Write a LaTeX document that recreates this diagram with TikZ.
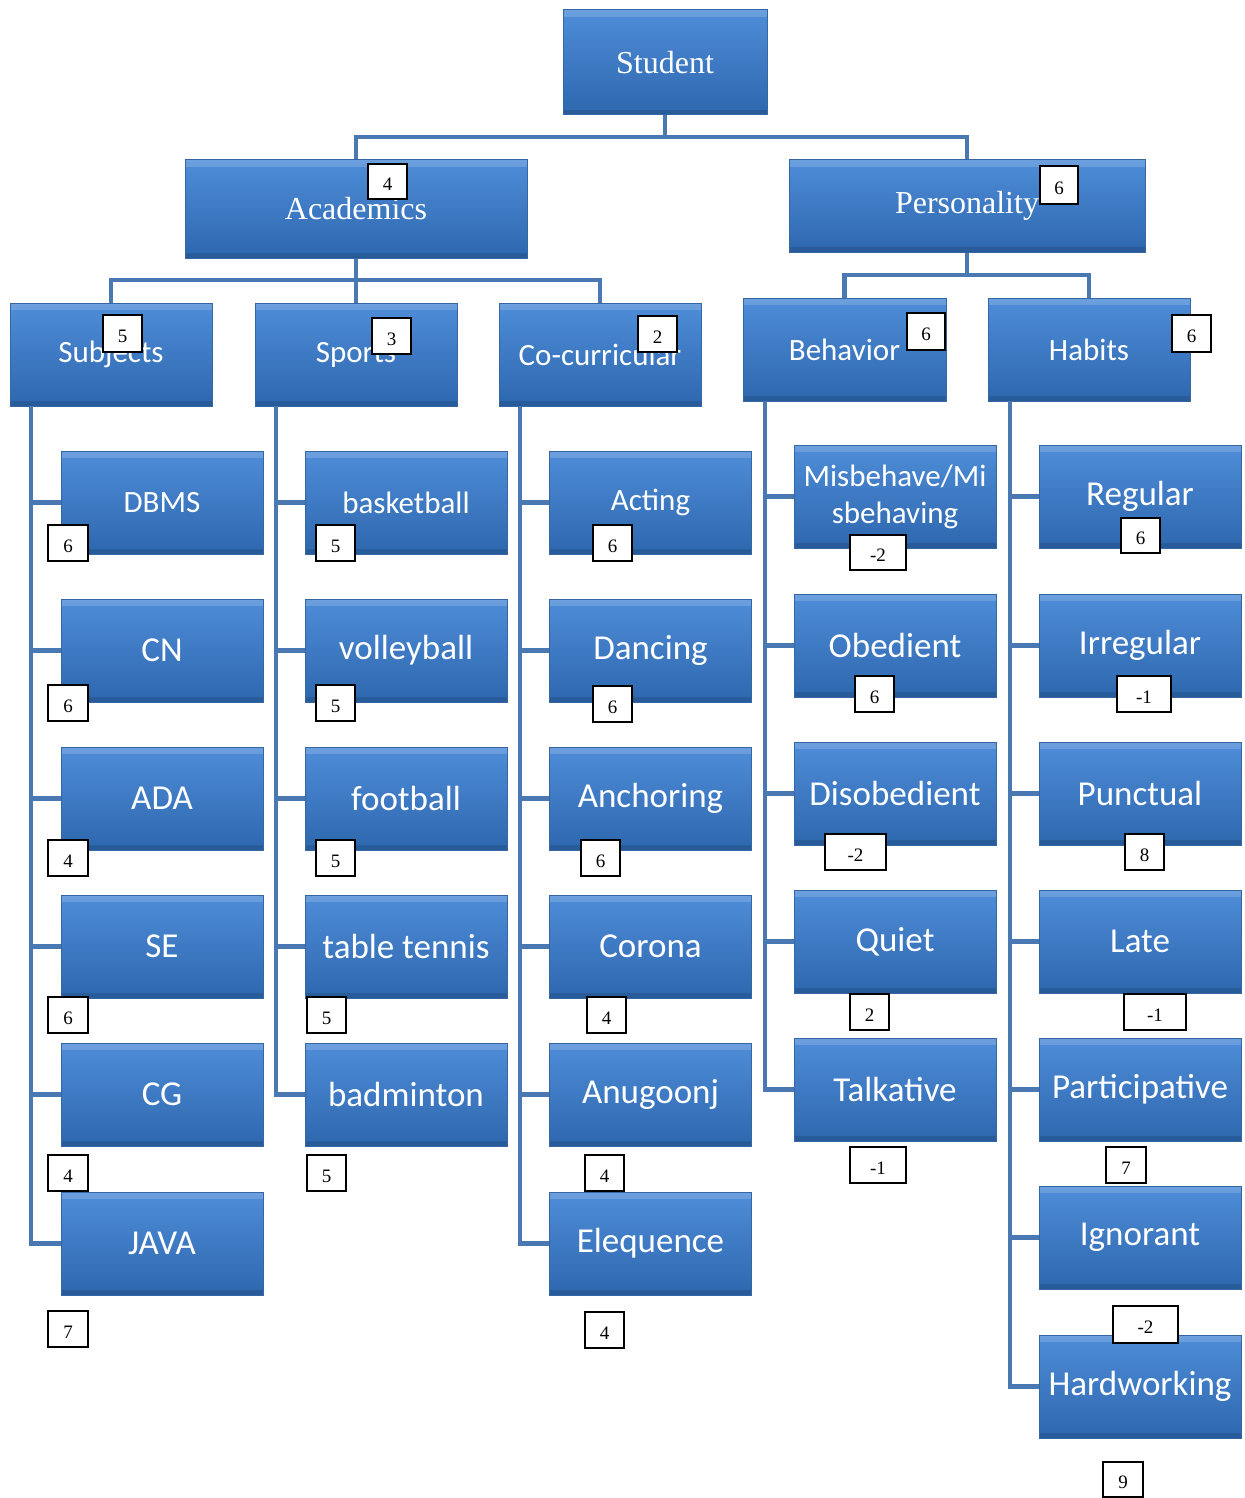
\documentclass[tikz,border=0pt]{standalone}
\usepackage{fontspec}
\setmainfont{Liberation Serif}
\newfontfamily\calfont{Carlito}
\definecolor{boxtop}{HTML}{4F8DD8}
\definecolor{boxbot}{HTML}{2D67AE}
\definecolor{boxedge}{HTML}{3666A3}
\definecolor{linkc}{HTML}{4A78B3}
\tikzset{
  bluebox/.style={rectangle, top color=boxtop, bottom color=boxbot, draw=boxedge,
    line width=1pt, text=white, align=center, inner sep=0pt,
    path picture={
      \fill[white,opacity=0.16] (path picture bounding box.north west) rectangle ([yshift=-7pt]path picture bounding box.north east);
      \fill[black,opacity=0.12] (path picture bounding box.south west) rectangle ([yshift=5pt]path picture bounding box.south east);
    }},
  topfont/.style={font=\fontsize{32}{34}\selectfont},
  midbox/.style={bluebox, minimum width=202pt, minimum height=103pt, font=\calfont\fontsize{31}{34}\selectfont},
  childbox/.style={bluebox, minimum width=202pt, minimum height=103pt, font=\calfont\fontsize{35}{37}\selectfont},
  smallkid/.style={font=\calfont\fontsize{31}{37}\selectfont},
  link/.style={draw=linkc, line width=4.5pt},
  numbox/.style={rectangle, draw=black, line width=1.5pt, fill=white, inner sep=0pt,
    minimum width=39pt, minimum height=36pt, text height=18.5pt, text depth=0pt,
    font=\fontsize{19}{20}\selectfont},
}
\begin{document}
\begin{tikzpicture}[x=1pt,y=-1pt]
\fill[white] (0,0) rectangle (1244,1498);
\useasboundingbox (0,0) rectangle (1244,1498);

% ---- top levels
\node[bluebox, topfont, minimum width=204pt, minimum height=105pt] (student) at (665,62.5) {Student};
\node[bluebox, topfont, minimum width=342pt, minimum height=98pt] (academics) at (356,209) {Academics};
\node[bluebox, topfont, minimum width=356pt, minimum height=92pt] (personality) at (967,206) {Personality};

\node[midbox] (subjects) at (111,354.5) {Subjects};
\node[midbox] (sports) at (356,354.5) {Sports};
\node[midbox] (cocurr) at (600,354.5) {Co-curricular};
\node[midbox, minimum width=203pt] (behavior) at (844.5,349.5) {Behavior};
\node[midbox] (habits) at (1089,349.5) {Habits};

% ---- Subjects children
\node[childbox, smallkid] (dbms) at (162,502.5) {DBMS};
\node[childbox] (cn) at (162,650.5) {CN};
\node[childbox] (ada) at (162,798.5) {ADA};
\node[childbox] (se) at (162,946.5) {SE};
\node[childbox] (cg) at (162,1094.5) {CG};
\node[childbox] (java) at (162,1243.5) {JAVA};

% ---- Sports children
\node[childbox, smallkid] (basketball) at (406,502.5) {basketball};
\node[childbox] (volleyball) at (406,650.5) {volleyball};
\node[childbox] (football) at (406,798.5) {football};
\node[childbox] (tabletennis) at (406,946.5) {table tennis};
\node[childbox] (badminton) at (406,1094.5) {badminton};

% ---- Co-curricular children
\node[childbox, smallkid] (acting) at (650.5,502.5) {Acting};
\node[childbox] (dancing) at (650.5,650.5) {Dancing};
\node[childbox] (anchoring) at (650.5,798.5) {Anchoring};
\node[childbox] (corona) at (650.5,946.5) {Corona};
\node[childbox] (anugoonj) at (650.5,1094.5) {Anugoonj};
\node[childbox] (elequence) at (650.5,1243.5) {Elequence};

% ---- Behavior children
\node[childbox, smallkid] (misbehave) at (895,496.5) {Misbehave/Mi\\sbehaving};
\node[childbox] (obedient) at (895,645.5) {Obedient};
\node[childbox] (disobedient) at (895,793.5) {Disobedient};
\node[childbox] (quiet) at (895,941.5) {Quiet};
\node[childbox] (talkative) at (895,1089.5) {Talkative};

% ---- Habits children
\node[childbox] (regular) at (1140,496.5) {Regular};
\node[childbox] (irregular) at (1140,645.5) {Irregular};
\node[childbox] (punctual) at (1140,793.5) {Punctual};
\node[childbox] (late) at (1140,941.5) {Late};
\node[childbox] (participative) at (1140,1089.5) {Participative};
\node[childbox] (ignorant) at (1140,1237.5) {Ignorant};
\node[childbox] (hardworking) at (1140,1386.5) {Hardworking};

% ---- connectors
\coordinate (j0) at (665,137);
\draw[link] (student.south) -- (j0) -| (academics.north);
\draw[link] (j0) -| (personality.north);
\coordinate (j1) at (356,280);
\draw[link] (academics.south) -- (j1) -| (subjects.north);
\draw[link] (j1) -| (sports.north);
\draw[link] (j1) -| (cocurr.north);
\coordinate (j2) at (967,275);
\draw[link] (personality.south) -- (j2) -| (behavior.north);
\draw[link] (j2) -| (habits.north);

\coordinate (t1) at (31,406);
\coordinate (t2) at (276,406);
\coordinate (t3) at (520,406);
\coordinate (t4) at (765,401);
\coordinate (t5) at (1010,401);
\foreach \c in {dbms,cn,ada,se,cg,java} \draw[link] (t1) |- (\c.west);
\foreach \c in {basketball,volleyball,football,tabletennis,badminton} \draw[link] (t2) |- (\c.west);
\foreach \c in {acting,dancing,anchoring,corona,anugoonj,elequence} \draw[link] (t3) |- (\c.west);
\foreach \c in {misbehave,obedient,disobedient,quiet,talkative} \draw[link] (t4) |- (\c.west);
\foreach \c in {regular,irregular,punctual,late,participative,ignorant,hardworking} \draw[link] (t5) |- (\c.west);

% ---- score boxes
\node[numbox, minimum height=35pt] (nacademics) at (387.5,181.5) {4};
\node[numbox, minimum width=38pt, minimum height=38pt] (npersonality) at (1059,185) {6};
\node[numbox, minimum height=37pt] (nsubjects) at (122.5,333.5) {5};
\node[numbox] (nsports) at (391.5,336) {3};
\node[numbox] (ncocurr) at (657.5,334) {2};
\node[numbox, minimum width=38pt, minimum height=37pt] (nbehavior) at (926,331.5) {6};
\node[numbox, minimum height=37pt] (nhabits) at (1191.5,333.5) {6};

\node[numbox, minimum width=40pt] (ndbms) at (68,543) {6};
\node[numbox, minimum width=40pt] (ncn) at (68,703) {6};
\node[numbox, minimum width=40pt] (nada) at (68,858) {4};
\node[numbox, minimum width=40pt] (nse) at (68,1015) {6};
\node[numbox, minimum width=40pt] (ncg) at (68,1173) {4};
\node[numbox, minimum width=40pt] (njava) at (68,1329) {7};

\node[numbox] (nbasketball) at (335.5,543) {5};
\node[numbox] (nvolleyball) at (335.5,703) {5};
\node[numbox] (nfootball) at (335.5,858) {5};
\node[numbox] (ntabletennis) at (326.5,1015) {5};
\node[numbox] (nbadminton) at (326.5,1173) {5};

\node[numbox] (nacting) at (612.5,543) {6};
\node[numbox] (ndancing) at (612.5,704) {6};
\node[numbox] (nanchoring) at (600.5,858) {6};
\node[numbox] (ncorona) at (606.5,1015) {4};
\node[numbox] (nanugoonj) at (604.5,1173) {4};
\node[numbox] (nelequence) at (604.5,1330) {4};

\node[numbox, minimum width=56pt, minimum height=35pt] (nmisbehave) at (878,552.5) {-2};
\node[numbox] (nobedient) at (874.5,694) {6};
\node[numbox, minimum width=61pt] (ndisobedient) at (855.5,852) {-2};
\node[numbox] (nquiet) at (869.5,1012) {2};
\node[numbox, minimum width=56pt] (ntalkative) at (878,1165) {-1};

\node[numbox, minimum height=35pt] (nregular) at (1140.5,535.5) {6};
\node[numbox, minimum width=54pt] (nirregular) at (1144,694) {-1};
\node[numbox] (npunctual) at (1144.5,852) {8};
\node[numbox, minimum width=62pt] (nlate) at (1155,1012) {-1};
\node[numbox, minimum width=40pt] (nparticipative) at (1126,1165) {7};
\node[numbox, minimum width=65pt, minimum height=37pt] (nignorant) at (1145.5,1324.5) {-2};
\node[numbox, minimum width=40pt, minimum height=35pt] (nhardworking) at (1123,1479.5) {9};
\end{tikzpicture}
\end{document}
